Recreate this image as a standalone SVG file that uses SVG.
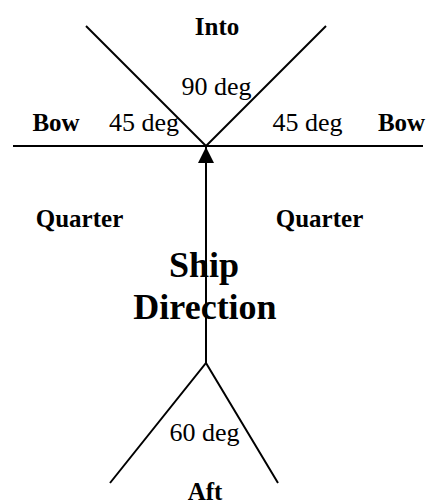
<svg xmlns="http://www.w3.org/2000/svg" width="429" height="504" viewBox="0 0 429 504">
<style>
.ln{stroke:#000;stroke-width:2;fill:none}
.b{font-family:"Liberation Serif","Times New Roman",serif;font-weight:bold;font-size:25px;text-anchor:middle;fill:#000}
.r{font-family:"Liberation Serif","Times New Roman",serif;font-size:26px;text-anchor:middle;fill:#000}
.big{font-family:"Liberation Serif","Times New Roman",serif;font-weight:bold;font-size:36px;text-anchor:middle;fill:#000}
</style>
<defs>
<marker id="ah" markerUnits="userSpaceOnUse" markerWidth="16" markerHeight="17" refX="16" refY="8" orient="auto">
<path d="M0,0 L16,8 L0,16 Z" fill="#000"/>
</marker>
</defs>
<rect width="429" height="504" fill="#fff"/>
<g id="connectors">
<line class="ln" x1="13" y1="146" x2="423" y2="146"/>
<line class="ln" x1="86" y1="26" x2="206" y2="146"/>
<line class="ln" x1="206" y1="146" x2="326" y2="26"/>
<line class="ln" x1="206" y1="363" x2="206" y2="147" marker-end="url(#ah)"/>
<polyline class="ln" points="110,483 206,363 278,483"/>
</g>
<g id="into"><text class="b" x="217" y="35">Into</text></g>
<g id="angle90"><text class="r" x="216.5" y="95">90 deg</text></g>
<g id="bow-left"><text class="b" x="56" y="131">Bow</text></g>
<g id="angle45-left"><text class="r" x="144" y="131">45 deg</text></g>
<g id="angle45-right"><text class="r" x="307.5" y="131">45 deg</text></g>
<g id="bow-right"><text class="b" x="401.5" y="131">Bow</text></g>
<g id="quarter-left"><text class="b" x="79.5" y="227">Quarter</text></g>
<g id="quarter-right"><text class="b" x="319.5" y="227">Quarter</text></g>
<g id="ship-direction"><text class="big" x="204" y="277">Ship</text><text class="big" x="205" y="319">Direction</text></g>
<g id="angle60"><text class="r" x="204.5" y="441">60 deg</text></g>
<g id="aft"><text class="b" x="205" y="500">Aft</text></g>
</svg>
